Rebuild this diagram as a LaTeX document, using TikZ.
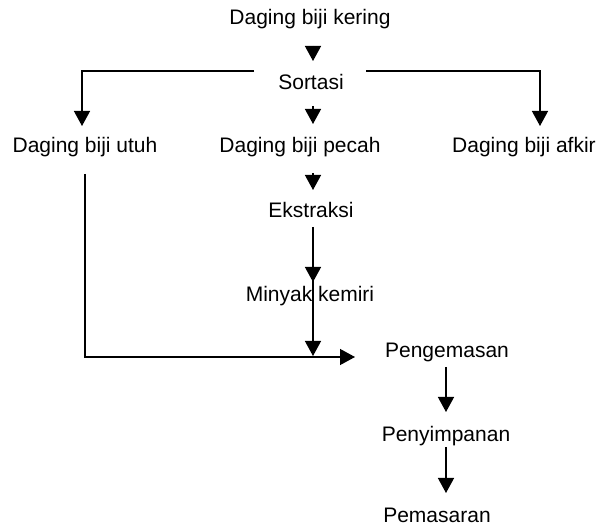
\documentclass[tikz,border=0pt]{standalone}
\usepackage{fontspec}
\setmainfont{Liberation Sans}
\usetikzlibrary{arrows.meta,calc}
\begin{document}
\begin{tikzpicture}[x=1pt,y=-1pt,
  lbl/.style={inner sep=0pt, text height=15pt, text depth=4pt, font=\fontsize{21}{25}\selectfont},
  ln/.style={line width=1.4pt},
  arr/.style={ln, -{Triangle[width=16pt,length=15pt]}}]
\useasboundingbox[fill=white] (0,0) rectangle (598,529);
\node[lbl] (title) at (310,19) {Daging biji kering};
\node[lbl] (sortasi) at (311,84) {Sortasi};
\node[lbl] (utuh) at (85,147) {Daging biji utuh};
\node[lbl] (pecah) at (300,147) {Daging biji pecah};
\node[lbl] (afkir) at (524,147) {Daging biji afkir};
\node[lbl] (ekstraksi) at (311,212) {Ekstraksi};
\node[lbl] (minyak) at (310,296) {Minyak kemiri};
\node[lbl] (pengemasan) at (447,352) {Pengemasan};
\node[lbl] (penyimpanan) at (446,436) {Penyimpanan};
\node[lbl] (pemasaran) at (437,517) {Pemasaran};
\coordinate (join) at (313,357);
\draw[arr] ($(title)+(3,27)$) -- ($(sortasi)+(2,-23)$);
\draw[arr] ($(sortasi)+(-57,-13)$) -| ($(utuh)+(-3,-21)$);
\draw[arr] ($(sortasi)+(55,-13)$) -| ($(afkir)+(16,-21)$);
\draw[arr] ($(sortasi)+(2,22)$) -- ($(pecah)+(13,-23)$);
\draw[arr] ($(pecah)+(13,26)$) -- ($(ekstraksi)+(2,-22)$);
\draw[arr] ($(ekstraksi)+(2,15)$) -- ($(minyak)+(3,-14)$);
\draw[arr] ($(minyak)+(3,-16)$) -- ($(join)+(0,-1)$);
\draw[arr] ($(utuh)+(0,27)$) |- ($(pengemasan)+(-92,5)$);
\draw[arr] ($(pengemasan)+(-1,15)$) -- ($(penyimpanan)+(0,-24)$);
\draw[arr] ($(penyimpanan)+(0,11)$) -- ($(pemasaran)+(9,-24)$);
\end{tikzpicture}
\end{document}
